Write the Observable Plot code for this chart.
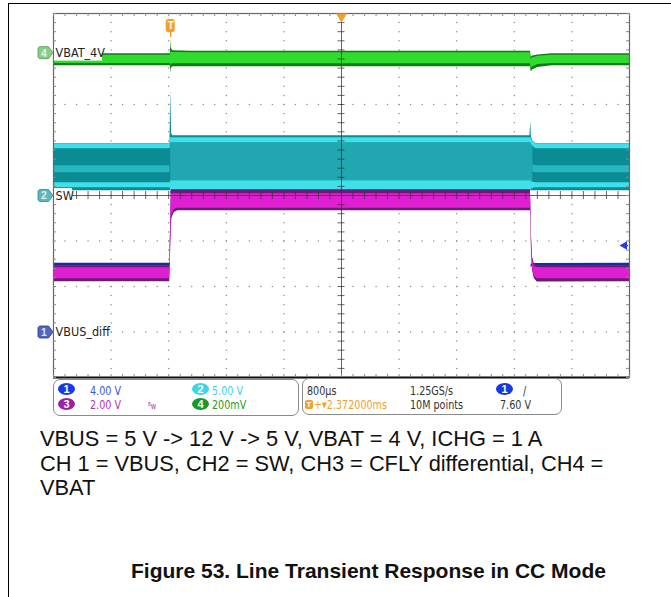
<!DOCTYPE html>
<html>
<head>
<meta charset="utf-8">
<script src="https://cdn.jsdelivr.net/npm/d3@7"></script>
<script src="https://cdn.jsdelivr.net/npm/@observablehq/plot@0.6"></script>
<style>
  html, body { margin: 0; padding: 0; background: #fff; }
  #page { position: relative; width: 671px; height: 597px; overflow: hidden; background: #fff; }
  #border { position: absolute; left: 7.5px; top: 2.5px; width: 700px; height: 700px;
            border-left: 1.5px solid #000; border-top: 1.5px solid #000; }
  #scope { position: absolute; left: 0; top: 0; }
  .scopetxt { position: absolute; font-family: "Liberation Sans Narrow", "DejaVu Sans Condensed", "Arial Narrow", sans-serif;
              font-stretch: condensed; font-size: 13px; line-height: 13px; white-space: nowrap; color: #333;
              transform: scaleX(0.82); transform-origin: 0 0; }
  .box { position: absolute; border: 1px solid #8a8a8a; border-radius: 7px; background: #fff; }
  .badge { position: absolute; width: 17px; height: 12px; border-radius: 50%; color: #fff; text-align: center;
           font-family: "Liberation Sans", Arial, sans-serif; font-weight: bold; font-size: 11px; line-height: 12px; }
  .cap { position: absolute; font-family: "Liberation Sans", Arial, sans-serif; color: #111; white-space: nowrap; }
</style>
</head>
<body>
<div id="page">
  <div id="border"></div>
  <div id="scope"></div>
  <div id="info"></div>
  <div id="caption"></div>
</div>
<script>
// ---------------- scope settings ----------------
const timePerDiv = 0.8;          // ms / div  (800 µs)
const horizPos = 2.372;          // ms from trigger to screen centre
const xDivs = 10, yDivs = 8;
const xMin = horizPos - timePerDiv * xDivs / 2;
const xMax = horizPos + timePerDiv * xDivs / 2;

// ---------------- channels ----------------
const chIds        = [1, 2, 3, 4];
const chNames      = ["VBUS_diff", "SW", "", "VBAT_4V"];
const chVoltsDiv   = [4, 5, 2, 0.2];
const chPosDiv     = [-3, 0, -3, 3.14];
const chOffsetV    = [0, 0, 0, 4];
const chScaleText  = ["4.00 V", "5.00 V", "2.00 V", "200mV"];
const chTagFill    = ["#5366bd", "#5cb8bc", "#9a2aa6", "#86cd86"];
const chTagStroke  = ["#26368a", "#2f8a8e", "#6a1478", "#4f9a4f"];
const chBadgeFill  = ["#1638e6", "#3cd6e6", "#9c1fa8", "#17992a"];
const chTextColor  = ["#3a55d8", "#45cfe0", "#b035b5", "#2a9a2a"];

// ---------------- trigger / acquisition ----------------
const trigLevelV = 7.60;   // CH1
const trigChannel = 1;
const sampleRate = "1.25GS/s";
const recordLen = "10M points";
const timebaseText = "800µs";
const delayText = "2.372000ms";

// ---------------- traces (ms from trigger, volts) ----------------
// CH1 VBUS (mostly hidden under CH3)
const vbusT = [-1.628, -0.004, 0.002, 0.02, 4.997, 5.002, 5.006, 5.02, 6.372];
const vbusV = [5.91, 5.91, 12.2, 12.33, 12.33, 7.0, 5.75, 5.9, 5.91];

// CH2 SW envelope and inner bands
const swT      = [-1.628, -0.01, 0, 0.012, 0.03, 4.99, 5.0, 5.01, 5.03, 5.07, 6.372];
const swHi     = [5.70, 5.70, 11.6, 6.8, 6.56, 6.56, 8.2, 6.4, 6.0, 5.72, 5.70];
const swLo     = [0.52, 0.52, 0.52, 0.50, 0.50, 0.50, 0.50, 0.52, 0.52, 0.52, 0.52];
const swTopHi  = [5.66, 5.66, 6.34, 6.34, 6.34, 6.34, 6.34, 6.2, 5.95, 5.68, 5.66];
const swTopLo  = [5.13, 5.13, 5.79, 5.79, 5.79, 5.79, 5.79, 5.6, 5.4, 5.15, 5.13];
const swBotHi  = [1.40, 1.40, 1.62, 1.62, 1.62, 1.62, 1.62, 1.55, 1.45, 1.40, 1.40];
const swBotLo  = [0.85, 0.85, 0.55, 0.55, 0.55, 0.55, 0.55, 0.65, 0.8, 0.85, 0.85];
const swBodyT  = [0, 0.012, 4.99, 5.0, 5.01, 5.03];
const swBodyHi = [5.79, 5.79, 5.79, 5.79, 5.6, 5.4];
const swBodyLo = [1.62, 1.62, 1.62, 1.62, 1.55, 1.45];
const swStripeT  = [-1.628, -0.01, null, 5.03, 5.07, 6.372];
const swStripeHi = [3.26, 3.26, null, 3.4, 3.26, 3.26];
const swStripeLo = [2.49, 2.49, null, 2.6, 2.49, 2.49];

// CH3 CFLY differential
const cfT    = [-1.628, -0.014, 0.008, 0.016, 0.05, 0.1, 4.996, 5.0, 5.01, 5.025, 5.05, 5.09, 5.2, 6.372];
const cfHi   = [2.91, 2.91, 6.25, 6.25, 6.25, 6.25, 6.25, 5.9, 4.3, 3.3, 3.0, 2.92, 2.91, 2.91];
const cfLo   = [2.21, 2.21, 4.6, 5.0, 5.25, 5.33, 5.33, 5.0, 3.6, 2.7, 2.35, 2.2, 2.2, 2.21];
const cfInHi = [2.82, 2.82, 6.08, 6.08, 6.08, 6.08, 6.08, 5.75, 4.1, 3.15, 2.88, 2.83, 2.82, 2.82];
const cfInLo = [2.34, 2.34, 4.8, 5.15, 5.38, 5.44, 5.44, 5.2, 3.8, 2.8, 2.45, 2.34, 2.34, 2.34];

// CH4 VBAT
const vbT    = [-1.628, -0.006, 0, 0.006, 0.03, 0.3, 4.99, 4.997, 5.006, 5.03, 5.1, 5.3, 6.372];
const vbHi   = [3.995, 3.995, 4.056, 4.02, 4.008, 4.006, 4.006, 4.006, 3.98, 3.985, 3.99, 3.995, 3.995];
const vbLo   = [3.942, 3.942, 3.907, 3.93, 3.938, 3.938, 3.938, 3.938, 3.916, 3.925, 3.935, 3.942, 3.942];
const vbInHi = [3.988, 3.988, 4.0, 4.002, 4.001, 4.0, 4.0, 4.0, 3.972, 3.978, 3.984, 3.988, 3.988];
const vbInLo = [3.952, 3.952, 3.94, 3.948, 3.951, 3.951, 3.951, 3.951, 3.93, 3.938, 3.948, 3.952, 3.952];

// ---------------- caption ----------------
const captionLines = [
  "VBUS = 5 V -> 12 V -> 5 V, VBAT = 4 V, ICHG = 1 A",
  "CH 1 = VBUS, CH2 = SW, CH3 = CFLY differential, CH4 =",
  "VBAT"
];
const figureTitle = "Figure 53. Line Transient Response in CC Mode";

// ---------------- geometry ----------------
const W = 671, H = 379, mL = 53, mR = 42, mT = 13, mB = 2;
const pxX = (W - mL - mR) / (xMax - xMin);
const pxY = (H - mT - mB) / yDivs;
const ci = id => chIds.indexOf(id);
const toDiv = (id, v) => chPosDiv[ci(id)] + (v - chOffsetV[ci(id)]) / chVoltsDiv[ci(id)];

const rows = (t, hi, lo) => t.map((x, i) => ({t: x, hi: hi[i], lo: lo[i]}));
const band = (id, t, hi, lo, fill) =>
  Plot.areaY(rows(t, hi, lo), {
    x: "t",
    y1: d => d.lo == null ? NaN : toDiv(id, d.lo),
    y2: d => d.hi == null ? NaN : toDiv(id, d.hi),
    fill, curve: "linear"
  });
// a single trace drawn as a band 3 px thick (thin on vertical edges)
const halfPx = 1.5 / pxY;
const trace = (id, t, v, fill) =>
  Plot.areaY(t.map((x, i) => ({t: x, v: v[i]})), {
    x: "t", y1: d => toDiv(id, d.v) - halfPx, y2: d => toDiv(id, d.v) + halfPx, fill, curve: "linear"
  });

// graticule helpers
const minorX = d3.range(0, xDivs * 5 + 1).map(i => xMin + i * timePerDiv / 5);
const minorY = d3.range(-yDivs * 5 / 2, yDivs * 5 / 2 + 1).map(j => j / 5);
const majorX = d3.range(1, xDivs).filter(k => k !== xDivs / 2).map(k => xMin + k * timePerDiv);
const majorY = d3.range(-yDivs / 2 + 1, yDivs / 2).filter(m => m !== 0);
const gridDots = [
  ...majorX.flatMap(x => minorY.map(y => ({x, y}))),
  ...majorY.flatMap(y => minorX.map(x => ({x, y})))
];
const tx = 3 / pxX, ty = 3 / pxY;

// channel tag symbol (pointing right)
const tagSymbol = {
  draw(ctx) {
    ctx.moveTo(-6, -6); ctx.lineTo(3, -6); ctx.lineTo(7.5, 0); ctx.lineTo(3, 6);
    ctx.lineTo(-6, 6); ctx.lineTo(-7.5, 4.5); ctx.lineTo(-7.5, -4.5); ctx.closePath();
  }
};
const labelW = {1: 50, 2: 19, 4: 49};
const labelled = chIds.filter(id => chNames[ci(id)] !== "").map(id => ({
  id, name: chNames[ci(id)], y: chPosDiv[ci(id)], w: labelW[id]
}));

const scopeFont = '"Liberation Sans Narrow", "DejaVu Sans Condensed", sans-serif';

const tagMarks = labelled.flatMap(d => [
  Plot.dot([d], {x: xMin, y: "y", dx: -8, symbol: tagSymbol, fill: chTagFill[ci(d.id)], stroke: chTagStroke[ci(d.id)], strokeWidth: 0.8}),
  Plot.text([d], {x: xMin, y: "y", dx: -9.5, dy: 0.5, text: dd => String(dd.id), fontSize: 10.5, fontWeight: "bold",
    fontFamily: "Liberation Sans, sans-serif", fill: "#fff", fillOpacity: 0.8})
]);

const chart = Plot.plot({
  width: W, height: H,
  marginLeft: mL, marginRight: mR, marginTop: mT, marginBottom: mB,
  x: {domain: [xMin, xMax], axis: null},
  y: {domain: [-yDivs / 2, yDivs / 2], axis: null},
  style: {background: "transparent", overflow: "visible"},
  marks: [
    // dotted graticule
    Plot.dot(gridDots, {x: "x", y: "y", r: 0.75, fill: "#8f8f8f", stroke: null}),
    // CH1
    trace(1, vbusT, vbusV, "#1b2a9c"),
    // CH2
    band(2, swT, swHi, swLo, "#0b8b93"),
    band(2, swBodyT, swBodyHi, swBodyLo, "#21a7af"),
    band(2, swStripeT, swStripeHi, swStripeLo, "#27b7c0"),
    band(2, swT, swTopHi, swTopLo, "#3fe0ea"),
    band(2, swT, swBotHi, swBotLo, "#3fe0ea"),
    // CH3
    band(3, cfT, cfHi, cfLo, "#6a1c78"),
    band(3, cfT, cfInHi, cfInLo, "#e01fd2"),
    // CH4
    band(4, vbT, vbHi, vbLo, "#13791a"),
    band(4, vbT, vbInHi, vbInLo, "#2edc2e"),
    // centre crosshair with ticks
    Plot.ruleX([horizPos], {stroke: "#333", strokeWidth: 1, strokeOpacity: 0.75}),
    Plot.ruleY([0], {stroke: "#333", strokeWidth: 1, strokeOpacity: 0.75}),
    Plot.ruleY(minorY, {y: d => d, x1: horizPos - 3.5 / pxX, x2: horizPos + 3.5 / pxX, stroke: "#333", strokeOpacity: 0.75}),
    Plot.ruleX(minorX, {x: d => d, y1: -4 / pxY, y2: 4 / pxY, stroke: "#333", strokeOpacity: 0.75}),
    // frame and edge ticks
    Plot.frame({stroke: "#666", strokeWidth: 1.2}),
    Plot.ruleY([-yDivs / 2], {stroke: "#111", strokeWidth: 2.2}),
    Plot.ruleX(minorX, {x: d => d, y1: yDivs / 2, y2: yDivs / 2 - ty, stroke: "#888"}),
    Plot.ruleX(minorX, {x: d => d, y1: -yDivs / 2, y2: -yDivs / 2 + ty, stroke: "#888"}),
    Plot.ruleY(minorY, {y: d => d, x1: xMin, x2: xMin + tx, stroke: "#888"}),
    Plot.ruleY(minorY, {y: d => d, x1: xMax, x2: xMax - tx, stroke: "#888"}),
    // channel labels with white background
    Plot.rect(labelled, {x1: xMin + 1 / pxX, x2: d => xMin + d.w / pxX, y1: d => d.y - 8.5 / pxY, y2: d => d.y + 7 / pxY, fill: "#fff"}),
    Plot.text(labelled, {x: xMin, y: "y", text: "name", textAnchor: "start", dx: 2, dy: 0, fontSize: 12.5,
      fontFamily: scopeFont, fill: "#222"}),
    ...tagMarks,
    // trigger marker "T"
    Plot.rect([0], {x1: -4.5 / pxX, x2: 4.5 / pxX, y1: yDivs / 2 - 19 / pxY, y2: yDivs / 2 - 6 / pxY, fill: "#f3a02a", rx: 2.5}),
    Plot.ruleX([0], {y1: yDivs / 2 - 19 / pxY, y2: yDivs / 2 - 24 / pxY, stroke: "#f3a02a", strokeWidth: 1.5}),
    Plot.text([0], {x: d => d, y: yDivs / 2 - 12.5 / pxY, text: () => "T", fill: "#fff", fontSize: 10, fontWeight: "bold",
      fontFamily: "Liberation Sans, sans-serif"}),
    // horizontal position marker (centre)
    Plot.dot([horizPos], {x: d => d, y: yDivs / 2, dy: 3, symbol: "triangle", rotate: 180, r: 4, fill: "#f3a02a", stroke: null}),
    // trigger level arrow (CH1)
    Plot.dot([trigLevelV], {x: xMax, y: d => toDiv(trigChannel, d), dx: -5, symbol: "triangle", rotate: -90, r: 3.2, fill: "#2040e0", stroke: null}),
    Plot.ruleY([trigLevelV], {y: d => toDiv(trigChannel, d), x1: xMax - 5 / pxX, x2: xMax - 1 / pxX, stroke: "#2040e0", strokeWidth: 1.5})
  ]
});
document.getElementById("scope").appendChild(chart);

// ---------------- info bar below graticule ----------------
const info = document.getElementById("info");
const add = (html) => info.insertAdjacentHTML("beforeend", html);
add(`<div class="box" style="left:53px;top:379px;width:244px;height:35px"></div>`);
add(`<div class="box" style="left:302px;top:378px;width:258px;height:35px"></div>`);
const rowTop = [383.5, 398];
const badgeTop = [383, 397.5];
// channel settings: [row, badge x, text x]
const chInfoPos = {1: [0, 58, 90], 3: [1, 58, 90], 2: [0, 192, 212], 4: [1, 192, 212]};
chIds.forEach(id => {
  const [r, bx, txp] = chInfoPos[id];
  const i = ci(id);
  add(`<div class="badge" style="left:${bx}px;top:${badgeTop[r]}px;background:${chBadgeFill[i]}">${id}</div>`);
  add(`<div class="scopetxt" style="left:${txp}px;top:${rowTop[r]}px;color:${chTextColor[i]}">${chScaleText[i]}</div>`);
});
add(`<div class="scopetxt" style="left:148px;top:400px;font-size:9px;color:#b035b5">ᴮw</div>`);
add(`<div class="scopetxt" style="left:307px;top:${rowTop[0]}px">${timebaseText}</div>`);
add(`<div style="position:absolute;left:305px;top:400px;width:8px;height:9px;background:#f3a02a;border-radius:2px;color:#fff;font:bold 8px/9px 'Liberation Sans',sans-serif;text-align:center">T</div>`);
add(`<div class="scopetxt" style="left:314px;top:${rowTop[1]}px;color:#f3a02a">+▾${delayText}</div>`);
add(`<div class="scopetxt" style="left:410px;top:${rowTop[0]}px">${sampleRate}</div>`);
add(`<div class="scopetxt" style="left:410px;top:${rowTop[1]}px">${recordLen}</div>`);
add(`<div class="badge" style="left:496px;top:${badgeTop[0]}px;background:${chBadgeFill[ci(trigChannel)]}">${trigChannel}</div>`);
add(`<div class="scopetxt" style="left:523px;top:${rowTop[0]}px">/</div>`);
add(`<div class="scopetxt" style="left:500px;top:${rowTop[1]}px">${trigLevelV.toFixed(2)} V</div>`);

// ---------------- caption ----------------
const cap = document.getElementById("caption");
cap.insertAdjacentHTML("beforeend",
  `<div class="cap" style="left:40px;top:427px;font-size:21.8px;line-height:24.5px">${captionLines.map(s => s.replace(/>/g, "&gt;")).join("<br>")}</div>`);
cap.insertAdjacentHTML("beforeend",
  `<div class="cap" style="left:131px;top:559px;font-size:21px;line-height:24.5px;font-weight:bold">${figureTitle}</div>`);
</script>
</body>
</html>
